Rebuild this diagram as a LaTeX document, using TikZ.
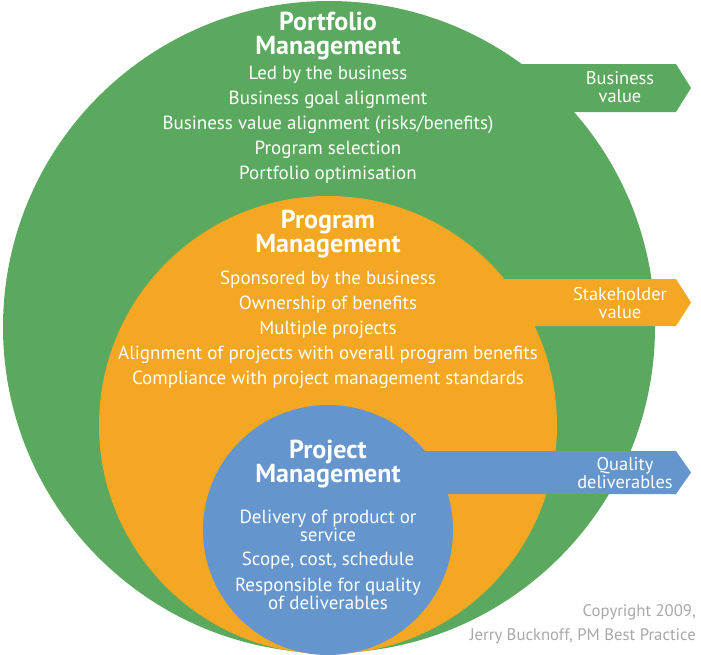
\documentclass[tikz,border=0pt]{standalone}
\usepackage{fontspec}
\setmainfont{PT Sans}
\usepackage{tikz}

\definecolor{pfgreen}{RGB}{91,169,94}
\definecolor{pgorange}{RGB}{244,167,35}
\definecolor{pjblue}{RGB}{100,149,205}
\definecolor{notegray}{RGB}{168,168,168}

\tikzset{
  title/.style={text=white, align=center, inner sep=0, font=\bfseries\fontsize{26}{24.5}\selectfont},
  body/.style={text=white, align=center, inner sep=0, font=\fontsize{19}{25}\selectfont},
  tag/.style={text=white, align=center, inner sep=0, font=\fontsize{18.4}{18.5}\selectfont},
  note/.style={text=notegray, align=right, inner sep=0, font=\fontsize{16.7}{24}\selectfont}
}

\begin{document}
\begin{tikzpicture}[x=1pt,y=-1pt]
        \useasboundingbox (0,0) rectangle (701,654);
        % circles and value arrows
        \fill[pfgreen] (329,327) circle (326pt);
        \fill[pfgreen] (450,64) -- (676,64) -- (691,88) -- (676,112) -- (450,112) -- cycle;
        \fill[pgorange] (328,425) circle (229pt);
        \fill[pgorange] (450,279) -- (676,279) -- (691,302.5) -- (676,326) -- (450,326) -- cycle;
        \fill[pjblue] (328,530) circle (125pt);
        \fill[pjblue] (380,451) -- (676,451) -- (691,472.5) -- (676,494) -- (380,494) -- cycle;
        \begin{scope}
                \node[title] (pftitle) at (328,36) {Portfolio\\Management};
                \node[body] (pfbody) at (328,125) {Led by the business\\Business goal alignment\\Business value alignment (risks/benefits)\\Program selection\\Portfolio optimisation};
                \node[title] (pgtitle) at (328,234) {Program\\Management};
                \node[body] (pgbody) at (328,330) {Sponsored by the business\\Ownership of benefits\\Multiple projects\\Alignment of projects with overall program benefits\\Compliance with project management standards};
                \node[title] (pjtitle) at (328,464) {Project\\Management};
                \node[body, font=\fontsize{19}{17}\selectfont] (pjbody) at (328,560) {Delivery of product or\\service\\[7pt]Scope, cost, schedule\\[7pt]Responsible for quality\\of deliverables};
        \end{scope}
        \begin{scope}
                \node[tag] (bvtag) at (620,87) {Business\\value};
                \node[tag] (svtag) at (620,303) {Stakeholder\\value};
                \node[tag] (qdtag) at (625,473) {Quality\\deliverables};
                \node[note, anchor=east] (copynote) at (696,624) {Copyright 2009,\\Jerry Bucknoff, PM Best Practice};
        \end{scope}
\end{tikzpicture}
\end{document}
